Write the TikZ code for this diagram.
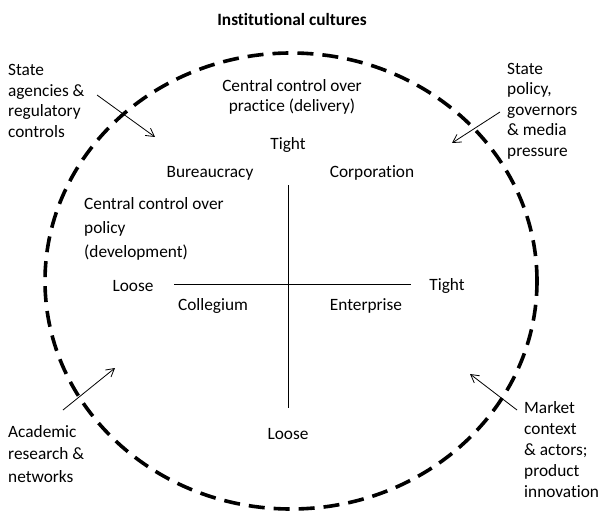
\documentclass[tikz,border=0pt]{standalone}
\usepackage{fontspec}
\setmainfont[Ligatures={NoCommon}]{Carlito}
\usepackage{tikz}
\usetikzlibrary{arrows.meta}
\def\drawring{\draw[line width=3.6pt, dash pattern=on 16pt off 9pt]}
\def\drawpush{\draw[line width=0.8pt, -{Straight Barb[length=8pt,width=9pt]}]}
\def\sidenode{\node[inner sep=0pt, anchor=west, align=left]}
\tikzset{
  lbl/.style={inner sep=0pt, font=\fontsize{17.3}{21}\selectfont},
}

\begin{document}
\begin{tikzpicture}[x=1pt,y=-1pt,every node/.style={lbl}]
\useasboundingbox (0,0) rectangle (599,513);
\coordinate (o) at (291,281); % centre of the ring

\node[font=\fontsize{17.3}{21}\selectfont\bfseries] (title) at (292,19) {Institutional cultures};

% the dashed ring
\drawring (o) ellipse [x radius=246pt, y radius=228pt];

% axes of the grid
\coordinate (axtop) at (288,185);
\coordinate (axbot) at (288,408);
\coordinate (axleft) at (174,284);
\coordinate (axright) at (411,284);
\draw[line width=0.8pt] (axtop) -- (axbot);
\draw[line width=0.8pt] (axleft) -- (axright);

% axis ends and quadrants
\node (tighttop) at (288,145) {Tight};
\node (loosebot) at (288,434) {Loose};
\node (looseleft) at (133,286) {Loose};
\node (tightright) at (447,286) {Tight};
\node (bureau) at (210,173) {Bureaucracy};
\node (corp) at (372,173) {Corporation};
\node (coll) at (213,306) {Collegium};
\node (enter) at (366,306) {Enterprise};

\node[align=center, font=\fontsize{17.3}{20}\selectfont] (ctlpractice) at (292,97) {Central control over\\practice (delivery)};
\sidenode[font=\fontsize{17.3}{24}\selectfont] (ctlpolicy) at (84,229) {Central control over\\policy\\(development)};

% outside pressures
\sidenode[font=\fontsize{17.3}{20.7}\selectfont] (statea) at (8,101) {State\\agencies \&\\regulatory\\controls};
\sidenode[font=\fontsize{17.3}{20.5}\selectfont] (statep) at (507,111) {State\\policy,\\governors\\\& media\\pressure};
\sidenode[font=\fontsize{17.3}{22.5}\selectfont] (acad) at (8,454) {Academic\\research \&\\networks};
\sidenode[font=\fontsize{17.3}{21}\selectfont] (market) at (524,450) {Market\\context\\\& actors;\\product\\innovation};

\coordinate (sa_from) at (97,95);    \coordinate (sa_to) at (155,137);
\coordinate (sp_from) at (500,112);  \coordinate (sp_to) at (452,143);
\coordinate (ac_from) at (63,410);   \coordinate (ac_to) at (115,368);
\coordinate (mk_from) at (517,410);  \coordinate (mk_to) at (470,374);
\drawpush (sa_from) -- (sa_to);
\drawpush (sp_from) -- (sp_to);
\drawpush (ac_from) -- (ac_to);
\drawpush (mk_from) -- (mk_to);
\end{tikzpicture}
\end{document}
